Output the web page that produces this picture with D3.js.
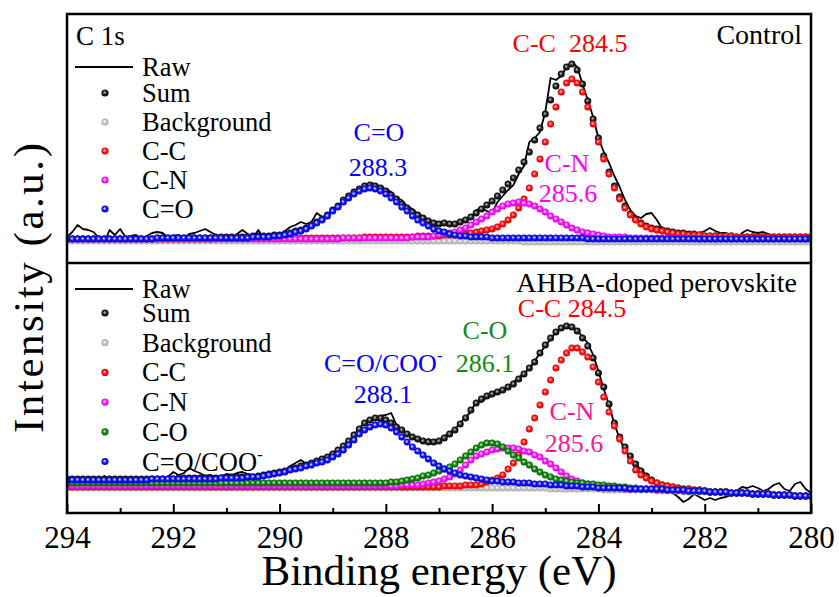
<!DOCTYPE html>
<html>
  <head>
    <meta charset="utf-8">
    <title>C 1s XPS</title>
    <style>
      body { margin: 0; background: #fff; }
      svg, svg text { font-family: "Liberation Serif", "DejaVu Serif", serif; }
      .pre { white-space: pre; }
    </style>
  </head>
  <body>
    <script src="https://d3js.org/d3.v7.min.js"></script>
    <script>

    // binding energy grid (eV)
    var energy = [
      294,293.9,293.8,293.7,293.6,293.5,293.4,293.3,293.2,293.1,
      293,292.9,292.8,292.7,292.6,292.5,292.4,292.3,292.2,292.1,
      292,291.9,291.8,291.7,291.6,291.5,291.4,291.3,291.2,291.1,
      291,290.9,290.8,290.7,290.6,290.5,290.4,290.3,290.2,290.1,
      290,289.9,289.8,289.7,289.6,289.5,289.4,289.3,289.2,289.1,
      289,288.9,288.8,288.7,288.6,288.5,288.4,288.3,288.2,288.1,
      288,287.9,287.8,287.7,287.6,287.5,287.4,287.3,287.2,287.1,
      287,286.9,286.8,286.7,286.6,286.5,286.4,286.3,286.2,286.1,
      286,285.9,285.8,285.7,285.6,285.5,285.4,285.3,285.2,285.1,
      285,284.9,284.8,284.7,284.6,284.5,284.4,284.3,284.2,284.1,
      284,283.9,283.8,283.7,283.6,283.5,283.4,283.3,283.2,283.1,
      283,282.9,282.8,282.7,282.6,282.5,282.4,282.3,282.2,282.1,
      282,281.9,281.8,281.7,281.6,281.5,281.4,281.3,281.2,281.1,
      281,280.9,280.8,280.7,280.6,280.5,280.4,280.3,280.2,280.1,
      280
    ];

    var majorTicks = [294, 292, 290, 288, 286, 284, 282, 280];
    var minorTicks = [293, 291, 289, 287, 285, 283, 281];

    // ---- Control (top panel), intensity in a.u.
    var topRaw = [
      25,30,37,33,32,30,24,19,32,27,
      33,25,26,27,24,26,29,30,29,24,
      26,27,24,28,29,31,33,30,27,25,
      22,19,28,32,28,24,32,24,19,24,
      27,31,35,37,40,38,40,49,45,46,
      52,56,60,64,68,71,76,79,78,75,
      73,70,64,62,56,53,48,46,42,40,
      39,41,38,36,40,42,44,52,54,51,
      49,60,66,72,77,88,96,120,124,130,
      150,184,182,186,195,200,195,178,162,145,
      124,110,99,86,75,62,52,46,44,48,
      49,42,33,27,25,25,22,19,24,29,
      31,34,31,29,29,26,20,29,32,30,
      29,30,28,26,25,24,25,25,26,25,
      25
    ];
    var topSum = [
      23,23,23,23,23,23,23,23,23,23,
      23,23,23,23,23,23,23,24,24,24,
      24,24,24,24,24,24,24,24,25,25,
      25,25,25,25,25,26,26,26,26,27,
      27,28,29,31,32,34,37,40,43,47,
      52,56,62,66,70,73,76,77,76,74,
      71,67,63,58,54,50,47,44,41,39,
      38,39,38,38,40,42,45,49,53,57,
      61,66,72,78,84,92,100,110,122,134,
      148,162,176,188,195,198,192,178,161,143,
      124,106,90,76,65,56,48,43,39,36,
      34,33,32,31,30,29,29,28,28,27,
      26,26,26,26,26,26,25,25,25,25,
      25,25,25,25,25,25,25,25,25,25,
      25
    ];
    var topBg = [
      21,21,21,21,21,21,21,21,21,21,
      21,21,21,21,21,21,21,21,21,21,
      21,21,21,21,21,21,21,21,21,21,
      21,21,21,21,21,21,21,21,21,21,
      21,21,21,21,21,21,21,21,21,21,
      21,21,21,21,21,21,21,21,21,21,
      21,21,21,21,21,21,21,21,21,21,
      21,21,21,21,21,21,21,21,21,21,
      21,21,21,21,21,21,20,20,20,20,
      20,20,20,20,20,20,20,20,20,20,
      20,20,20,20,20,20,20,20,20,20,
      20,20,20,20,20,20,20,20,20,20,
      20,20,20,20,20,20,20,20,20,20,
      20,20,20,20,20,20,20,20,20,20,
      20
    ];
    var topCC = [
      23,23,23,23,23,23,23,23,23,23,
      23,23,23,23,23,23,23,23,23,23,
      23,23,23,23,23,23,23,23,24,24,
      24,24,24,24,24,24,24,24,24,24,
      24,24,24,24,24,24,24,24,24,24,
      24,24,24,24,24,24,25,25,25,25,
      25,25,25,25,25,25,26,26,26,26,
      26,27,27,27,28,28,29,30,31,32,
      33,35,38,42,47,54,63,74,88,103,
      120,138,155,170,179,183,179,170,155,138,
      120,103,88,74,63,54,47,42,38,35,
      33,32,31,30,29,28,28,27,27,27,
      26,26,26,26,26,26,25,25,25,25,
      25,25,25,25,25,25,25,25,25,25,
      25
    ];
    var topCN = [
      23,23,23,23,23,23,23,23,23,23,
      23,23,23,23,23,23,23,23,23,23,
      23,23,23,23,23,23,23,23,23,23,
      23,23,23,23,23,23,23,23,23,23,
      23,23,23,23,23,23,23,23,23,23,
      23,23,24,24,24,24,24,24,24,24,
      24,24,24,24,24,25,25,25,25,26,
      27,28,29,30,32,34,37,40,43,46,
      50,53,56,58,59,60,59,58,56,53,
      50,46,43,40,37,34,32,30,29,28,
      27,26,25,25,25,25,24,24,24,24,
      24,24,24,24,24,24,24,24,24,23,
      23,23,23,23,23,23,23,23,23,23,
      23,23,23,23,23,23,23,23,23,23,
      23
    ];
    var topCO = [
      23,23,23,23,23,23,23,23,23,23,
      23,23,23,23,23,23,23,24,24,24,
      24,24,24,24,24,24,24,24,24,24,
      24,24,24,24,24,25,25,25,25,26,
      26,27,28,30,31,33,36,39,42,46,
      51,55,60,64,68,71,73,74,73,71,
      68,64,60,55,51,46,42,39,36,33,
      31,30,28,27,26,26,25,25,25,25,
      24,24,24,24,24,24,24,24,24,24,
      24,24,24,24,24,24,24,24,23,23,
      23,23,23,23,23,23,23,23,23,23,
      23,23,23,23,23,23,23,23,23,23,
      23,23,23,23,23,23,23,23,23,23,
      23,23,23,23,23,23,23,23,23,23,
      23
    ];

    // ---- AHBA-doped perovskite (bottom panel)
    var botRaw = [
      35,36,32,31,36,33,31,37,34,31,
      33,30,23,33,23,32,24,30,34,36,
      41,38,40,45,42,40,37,38,36,37,
      39,38,40,41,39,38,38,40,40,41,
      42,41,47,50,53,49,51,53,55,57,
      61,63,68,72,78,85,90,95,94,97,
      98,100,88,82,78,76,73,71,74,72,
      73,77,80,84,90,96,101,112,111,116,
      117,120,122,126,131,135,140,144,152,160,
      167,174,181,184,187,187,183,176,170,158,
      142,124,108,89,74,63,55,48,44,38,
      34,30,29,25,20,16,11,14,19,16,
      13,15,13,15,16,18,22,26,25,27,
      25,22,24,28,30,24,22,29,31,24,
      20
    ];
    var botSum = [
      34,34,34,34,34,34,34,34,34,34,
      34,34,34,34,34,34,34,34,34,34,
      34,35,35,35,35,35,35,35,35,35,
      35,36,36,36,36,36,37,38,39,40,
      41,42,44,45,47,48,50,52,54,56,
      59,63,67,72,78,84,90,93,95,95,
      93,90,86,83,79,76,74,72,71,71,
      72,75,79,83,89,95,103,110,114,117,
      119,121,123,126,129,134,139,145,151,160,
      168,175,181,185,187,186,182,175,167,155,
      140,126,109,90,76,66,57,49,42,37,
      33,30,28,27,26,25,24,24,23,23,
      22,21,21,21,21,20,20,20,20,19,
      19,19,19,18,18,18,18,17,17,17,
      17
    ];
    var botBg = [
      25,25,25,25,25,25,25,25,25,25,
      25,25,25,25,25,25,25,25,25,25,
      25,25,25,25,25,25,25,25,25,25,
      25,25,25,25,25,25,25,25,25,25,
      25,25,25,25,25,25,25,25,25,25,
      25,25,25,25,25,25,25,25,25,25,
      25,25,25,25,25,25,25,25,25,25,
      25,25,25,25,25,25,25,25,25,25,
      25,25,25,25,25,25,25,25,25,25,
      25,24,24,24,24,24,24,24,24,24,
      24,23,23,23,23,23,23,23,23,23,
      23,22,22,22,22,22,21,21,21,21,
      21,21,21,21,21,20,20,20,20,19,
      19,19,19,18,18,18,18,17,17,17,
      17
    ];
    var botCC = [
      26,26,26,26,26,26,26,26,26,26,
      26,26,26,26,26,26,26,26,26,26,
      26,26,26,26,26,26,26,26,26,26,
      26,26,26,26,26,26,26,26,26,26,
      26,26,26,26,26,26,26,26,26,26,
      26,26,26,26,26,26,26,26,26,26,
      26,26,26,26,26,26,26,26,26,26,
      26,27,27,27,27,28,28,28,29,31,
      33,35,38,44,50,58,71,84,95,108,
      121,133,145,153,160,165,165,161,156,146,
      131,116,101,87,74,62,52,43,38,35,
      32,30,28,27,26,25,24,24,23,23,
      22,21,21,21,21,20,20,20,20,19,
      19,19,19,18,18,18,18,17,17,17,
      17
    ];
    var botCN = [
      27,27,27,27,27,27,27,27,27,27,
      27,27,27,27,27,27,27,27,27,27,
      27,27,27,27,27,27,27,27,27,27,
      27,27,27,27,27,27,27,27,27,27,
      27,27,27,27,27,27,27,27,27,27,
      27,27,27,27,27,27,27,27,27,27,
      27,27,27,28,28,28,28,29,30,31,
      32,34,36,39,43,48,53,57,59,61,
      63,64,65,65,65,64,62,61,58,56,
      52,49,45,41,37,34,32,30,29,28,
      27,26,26,25,25,24,24,24,24,24,
      24,23,23,23,23,23,22,22,22,22,
      22,21,21,21,21,20,20,20,20,19,
      19,19,19,18,18,18,18,17,17,17,
      17
    ];
    var botCO = [
      30,30,30,30,30,30,30,30,30,30,
      30,30,30,30,30,30,30,30,30,30,
      30,30,30,30,30,30,30,30,30,30,
      30,30,30,30,30,30,30,30,30,30,
      30,30,30,30,30,30,30,30,30,30,
      30,30,30,30,30,30,30,30,30,30,
      30,31,31,32,33,34,35,37,38,40,
      42,44,46,49,53,57,61,65,68,70,
      70,69,66,62,58,55,51,48,44,41,
      38,36,34,33,32,31,30,30,29,29,
      28,28,27,27,26,26,25,25,24,24,
      24,24,24,23,23,23,23,22,22,22,
      22,21,21,21,21,20,20,20,20,19,
      19,19,19,18,18,18,18,17,17,17,
      17
    ];
    var botCOO = [
      33,33,33,33,33,33,33,33,33,33,
      33,33,33,33,33,33,34,34,34,34,
      34,34,34,34,34,34,34,34,34,35,
      35,35,35,35,36,36,36,37,38,39,
      40,41,43,44,45,47,48,50,51,53,
      56,59,63,68,73,79,83,86,88,89,
      88,85,81,76,71,66,62,58,54,50,
      47,44,42,40,38,37,36,35,34,33,
      32,32,31,31,31,30,30,30,29,29,
      29,28,28,28,27,27,27,26,26,26,
      25,25,25,25,25,25,24,24,24,24,
      24,24,24,23,23,23,23,22,22,22,
      22,21,21,21,21,20,20,20,20,19,
      19,19,19,18,18,18,18,17,17,17,
      17
    ];

    // ---- layout (plot frame edges in px)
    var plotL = 67, plotR = 811, plotT = 14, plotM = 263, plotB = 513;
    var serif = "'Liberation Serif', 'DejaVu Serif', serif";

    var x = d3.scaleLinear().domain([294, 280]).range([plotL, plotR]);
    var yTop = d3.scaleLinear().domain([0, 248]).range([262, plotT]);
    var yBot = d3.scaleLinear().domain([0, 250]).range([plotB, plotM]);

    var svg = d3.select("body").append("svg")
        .attr("width", 839)
        .attr("height", 597)
        .style("font-family", serif);

    var defs = svg.append("defs");

    // shaded ball markers
    var balls = [
      {id: "ball-black",   hi: "#d0d0d0", mid: "#262626", lo: "#000000"},
      {id: "ball-gray",    hi: "#ffffff", mid: "#c8c8c8", lo: "#a8a8a8"},
      {id: "ball-red",     hi: "#ffd8d8", mid: "#ff1a1a", lo: "#c80000"},
      {id: "ball-magenta", hi: "#ffffff", mid: "#ff22ff", lo: "#c800c8"},
      {id: "ball-green",   hi: "#d8ffd8", mid: "#1a8c1a", lo: "#005a00"},
      {id: "ball-blue",    hi: "#ffffff", mid: "#1a1aff", lo: "#0000b4"}
    ];
    balls.forEach(function(b) {
      var g = defs.append("radialGradient")
          .attr("id", b.id)
          .attr("cx", "50%").attr("cy", "50%").attr("r", "55%")
          .attr("fx", "42%").attr("fy", "40%");
      g.append("stop").attr("offset", "0%").attr("stop-color", b.hi);
      g.append("stop").attr("offset", "45%").attr("stop-color", b.mid);
      g.append("stop").attr("offset", "100%").attr("stop-color", b.lo);
    });

    defs.append("clipPath").attr("id", "clip-top")
      .append("rect").attr("x", plotL).attr("y", plotT)
      .attr("width", plotR - plotL).attr("height", plotM - plotT);
    defs.append("clipPath").attr("id", "clip-bot")
      .append("rect").attr("x", plotL).attr("y", plotM)
      .attr("width", plotR - plotL).attr("height", plotB - plotM);

    var panels = [
      {
        clip: "clip-top", y: yTop, raw: topRaw,
        series: [
          {name: "Sum", values: topSum, ball: "ball-black"},
          {name: "Background", values: topBg, ball: "ball-gray"},
          {name: "C-C", values: topCC, ball: "ball-red"},
          {name: "C-N", values: topCN, ball: "ball-magenta"},
          {name: "C=O", values: topCO, ball: "ball-blue"}
        ],
        rawRow: 67, firstRow: 93, rowStep: 29
      },
      {
        clip: "clip-bot", y: yBot, raw: botRaw,
        series: [
          {name: "Sum", values: botSum, ball: "ball-black"},
          {name: "Background", values: botBg, ball: "ball-gray"},
          {name: "C-C", values: botCC, ball: "ball-red"},
          {name: "C-N", values: botCN, ball: "ball-magenta"},
          {name: "C-O", values: botCO, ball: "ball-green"},
          {name: "C=O/COO", sup: "-", values: botCOO, ball: "ball-blue"}
        ],
        rawRow: 289, firstRow: 313, rowStep: 29.7
      }
    ];

    panels.forEach(function(p) {
      var g = svg.append("g").attr("clip-path", "url(#" + p.clip + ")");

      var line = d3.line()
          .x(function(d, i) { return x(energy[i]); })
          .y(function(d) { return p.y(d); });

      g.append("path")
          .datum(p.raw)
          .attr("d", line)
          .attr("fill", "none")
          .attr("stroke", "#000")
          .attr("stroke-width", 1.8)
          .attr("stroke-linejoin", "round");

      p.series.forEach(function(s) {
        g.append("g").selectAll("circle")
            .data(s.values)
            .join("circle")
            .attr("cx", function(d, i) { return x(energy[i]); })
            .attr("cy", function(d) { return p.y(d); })
            .attr("r", 3.5)
            .attr("fill", "url(#" + s.ball + ")");
      });

      // legend
      var lg = svg.append("g").style("font-size", "26.5px");
      lg.append("line")
          .attr("x1", 75).attr("x2", 133)
          .attr("y1", p.rawRow).attr("y2", p.rawRow)
          .attr("stroke", "#000").attr("stroke-width", 2);
      lg.append("text").attr("x", 142).attr("y", p.rawRow + 9).text("Raw");

      p.series.forEach(function(s, k) {
        var ry = p.firstRow + k * p.rowStep;
        lg.append("circle")
            .attr("cx", 105).attr("cy", ry).attr("r", 3.6)
            .attr("fill", "url(#" + s.ball + ")");
        var t = lg.append("text").attr("x", 142).attr("y", ry + 9);
        t.append("tspan").text(s.name);
        if (s.sup) {
          t.append("tspan").attr("dy", -11).style("font-size", "17px").text(s.sup);
        }
      });
    });

    // frame and panel divider
    svg.append("rect")
        .attr("x", plotL).attr("y", plotT)
        .attr("width", plotR - plotL).attr("height", plotB - plotT)
        .attr("fill", "none")
        .attr("stroke", "#000")
        .attr("stroke-width", 2.5);
    svg.append("line")
        .attr("x1", plotL).attr("x2", plotR)
        .attr("y1", plotM).attr("y2", plotM)
        .attr("stroke", "#000")
        .attr("stroke-width", 2.5);

    // x axis, ticks pointing inward
    var axisMajor = svg.append("g")
        .attr("transform", "translate(0," + plotB + ")")
        .call(d3.axisBottom(x).tickValues(majorTicks).tickSize(-9).tickPadding(13)
              .tickFormat(d3.format("d")));
    var axisMinor = svg.append("g")
        .attr("transform", "translate(0," + plotB + ")")
        .call(d3.axisBottom(x).tickValues(minorTicks).tickSize(-5));

    axisMinor.selectAll(".tick text").remove();
    [axisMajor, axisMinor].forEach(function(a) {
      a.select(".domain").remove();
      a.selectAll(".tick line").attr("stroke-width", 2);
      a.attr("font-family", serif).attr("font-size", null);
    });
    axisMajor.selectAll(".tick text")
        .style("font-family", serif)
        .style("font-size", "31px")
        .attr("fill", "#000");

    // axis titles
    svg.append("text")
        .attr("x", (plotL + plotR) / 2)
        .attr("y", 585)
        .attr("text-anchor", "middle")
        .style("font-size", "43px")
        .text("Binding energy (eV)");

    svg.append("text")
        .attr("transform", "translate(43,288) rotate(-90)")
        .attr("text-anchor", "middle")
        .attr("textLength", 290)
        .attr("lengthAdjust", "spacing")
        .style("font-size", "43px")
        .text("Intensity (a.u.)");

    // panel titles
    svg.append("text").attr("x", 76).attr("y", 45)
        .style("font-size", "27px").text("C 1s");
    svg.append("text").attr("x", 802).attr("y", 44)
        .attr("text-anchor", "end")
        .style("font-size", "28px").text("Control");
    svg.append("text").attr("x", 797).attr("y", 292)
        .attr("text-anchor", "end")
        .style("font-size", "28px").text("AHBA-doped perovskite");

    // peak labels
    var peakLabels = [
      {t: "C-C  284.5", x: 570, y: 52, c: "#ff0000"},
      {t: "C-N", x: 567, y: 172, c: "#ff00ff"},
      {t: "285.6", x: 568, y: 202, c: "#ff00ff"},
      {t: "C=O", x: 379, y: 141, c: "#0000ff"},
      {t: "288.3", x: 378, y: 176, c: "#0000ff"},
      {t: "C-C 284.5", x: 572, y: 317, c: "#ff0000"},
      {t: "C-O", x: 485, y: 339, c: "#138a13"},
      {t: "286.1", x: 485, y: 372, c: "#138a13"},
      {t: "288.1", x: 383, y: 403, c: "#0000ff"},
      {t: "C-N", x: 572, y: 420, c: "#ff1493"},
      {t: "285.6", x: 574, y: 452, c: "#ff1493"}
    ];
    svg.append("g").selectAll("text")
        .data(peakLabels)
        .join("text")
        .attr("class", "pre")
        .attr("x", function(d) { return d.x; })
        .attr("y", function(d) { return d.y; })
        .attr("text-anchor", "middle")
        .attr("fill", function(d) { return d.c; })
        .style("font-size", "26px")
        .text(function(d) { return d.t; });

    var cooLabel = svg.append("text")
        .attr("x", 324).attr("y", 372)
        .attr("fill", "#0000ff")
        .style("font-size", "26px");
    cooLabel.append("tspan").text("C=O/COO");
    cooLabel.append("tspan").attr("dy", -11).style("font-size", "17px").text("-");

    </script>
  </body>
</html>
